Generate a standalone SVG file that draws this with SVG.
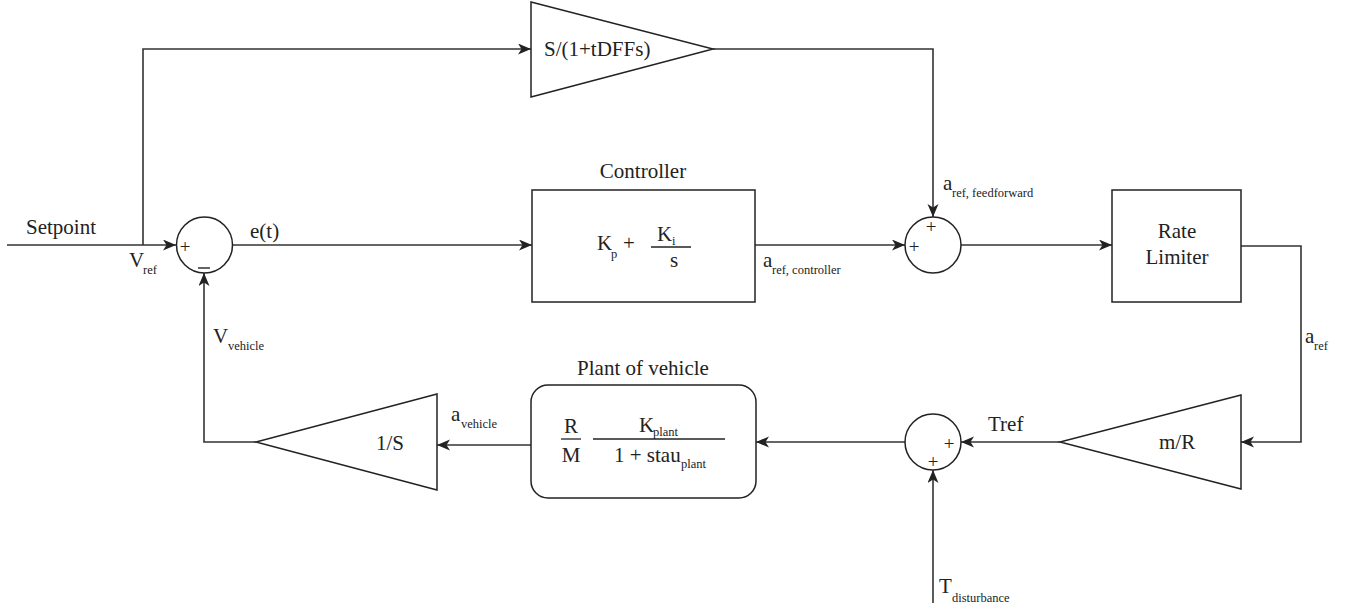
<svg xmlns="http://www.w3.org/2000/svg" width="1354" height="612" viewBox="0 0 1354 612">
<style>
text{font-family:"Liberation Serif","Times New Roman",serif;fill:#222;}
.t{font-size:21px;}
.s{font-size:12.5px;}
.sg{font-size:19px;}
.blk{fill:#fff;stroke:#222;stroke-width:1.5;}
.w{fill:none;stroke:#333;stroke-width:1.6;}
</style>
<defs>
<marker id="ar" markerUnits="userSpaceOnUse" markerWidth="14" markerHeight="12" refX="13" refY="5.5" orient="auto">
<path d="M0,0 L13,5.5 L0,11 L3.5,5.5 z" fill="#222"/>
</marker>
</defs>
<rect width="1354" height="612" fill="#fff"/>

<g id="connectors">
<path class="w" d="M7,245 H176" marker-end="url(#ar)"/>
<path class="w" d="M143,245 V49 H531" marker-end="url(#ar)"/>
<path class="w" d="M233,245 H532" marker-end="url(#ar)"/>
<path class="w" d="M713,49 H933 V217" marker-end="url(#ar)"/>
<path class="w" d="M755,245 H905" marker-end="url(#ar)"/>
<path class="w" d="M961,245 H1112" marker-end="url(#ar)"/>
<path class="w" d="M1241,246 H1301 V442 H1241" marker-end="url(#ar)"/>
<path class="w" d="M1060,442 H961" marker-end="url(#ar)"/>
<path class="w" d="M905,442 H756" marker-end="url(#ar)"/>
<path class="w" d="M531,445 H437" marker-end="url(#ar)"/>
<path class="w" d="M256,442 H204 V273" marker-end="url(#ar)"/>
<path class="w" d="M933,603 V470" marker-end="url(#ar)"/>
</g>

<g id="labels">
<text class="t" x="26" y="234">Setpoint</text>
<text class="t" x="129" y="267">V</text><text class="s" x="143" y="274">ref</text>
<text class="t" x="250" y="238">e(t)</text>
<text class="t" x="213" y="343">V</text><text class="s" x="228" y="350">vehicle</text>
<text class="t" x="763" y="267">a</text><text class="s" x="772" y="274">ref, controller</text>
<text class="t" x="943" y="190">a</text><text class="s" x="952" y="197">ref, feedforward</text>
<text class="t" x="1305" y="343">a</text><text class="s" x="1314" y="350">ref</text>
<text class="t" x="988" y="431">Tref</text>
<text class="t" x="451" y="421">a</text><text class="s" x="461" y="428">vehicle</text>
<text class="t" x="939" y="593">T</text><text class="s" x="952" y="602">disturbance</text>
</g>

<g id="sum1">
<circle class="blk" cx="204.5" cy="245" r="28"/>
<text class="sg" x="185" y="253" text-anchor="middle">+</text>
<line x1="198" y1="268" x2="210" y2="268" stroke="#222" stroke-width="1.4"/>
</g>

<g id="feedforward">
<path class="blk" d="M531,2 L713,49 L531,97 Z"/>
<text class="t" x="544" y="56">S/(1+tDFFs)</text>
</g>

<g id="controller">
<text class="t" x="643" y="178" text-anchor="middle">Controller</text>
<rect class="blk" x="532" y="190" width="223" height="112"/>
<text class="t" x="597" y="250">K</text><text class="s" x="611" y="258">p</text>
<text class="t" x="623" y="250">+</text>
<text class="t" x="657" y="241">K</text><text class="s" x="672" y="245">i</text>
<line x1="651" y1="247" x2="691" y2="247" stroke="#222" stroke-width="1.3"/>
<text class="t" x="670" y="267">s</text>
</g>

<g id="sum2">
<circle class="blk" cx="933" cy="245" r="28"/>
<text class="sg" x="931" y="233" text-anchor="middle">+</text>
<text class="sg" x="914" y="253" text-anchor="middle">+</text>
</g>

<g id="rate-limiter">
<rect class="blk" x="1112" y="190" width="129" height="112"/>
<text class="t" x="1177" y="238" text-anchor="middle">Rate</text>
<text class="t" x="1177" y="264" text-anchor="middle">Limiter</text>
</g>

<g id="gain-mR">
<path class="blk" d="M1241,395 L1060,442 L1241,489 Z"/>
<text class="t" x="1159" y="449">m/R</text>
</g>

<g id="sum3">
<circle class="blk" cx="933" cy="442" r="28"/>
<text class="sg" x="949" y="450" text-anchor="middle">+</text>
<text class="sg" x="933" y="468" text-anchor="middle">+</text>
</g>

<g id="plant">
<text class="t" x="643" y="375" text-anchor="middle">Plant of vehicle</text>
<rect class="blk" x="531" y="385" width="225" height="113" rx="17" ry="17"/>
<text class="t" x="571" y="433" text-anchor="middle">R</text>
<line x1="561" y1="439" x2="581" y2="439" stroke="#222" stroke-width="1.3"/>
<text class="t" x="571" y="462" text-anchor="middle">M</text>
<line x1="593" y1="439" x2="725" y2="439" stroke="#222" stroke-width="1.3"/>
<text class="t" x="639" y="432">K</text><text class="s" x="653" y="436">plant</text>
<text class="t" x="614" y="462">1 + stau</text><text class="s" x="681" y="468">plant</text>
</g>

<g id="integrator">
<path class="blk" d="M437,394 L256,442 L437,490 Z"/>
<text class="t" x="376" y="450">1/S</text>
</g>
</svg>
